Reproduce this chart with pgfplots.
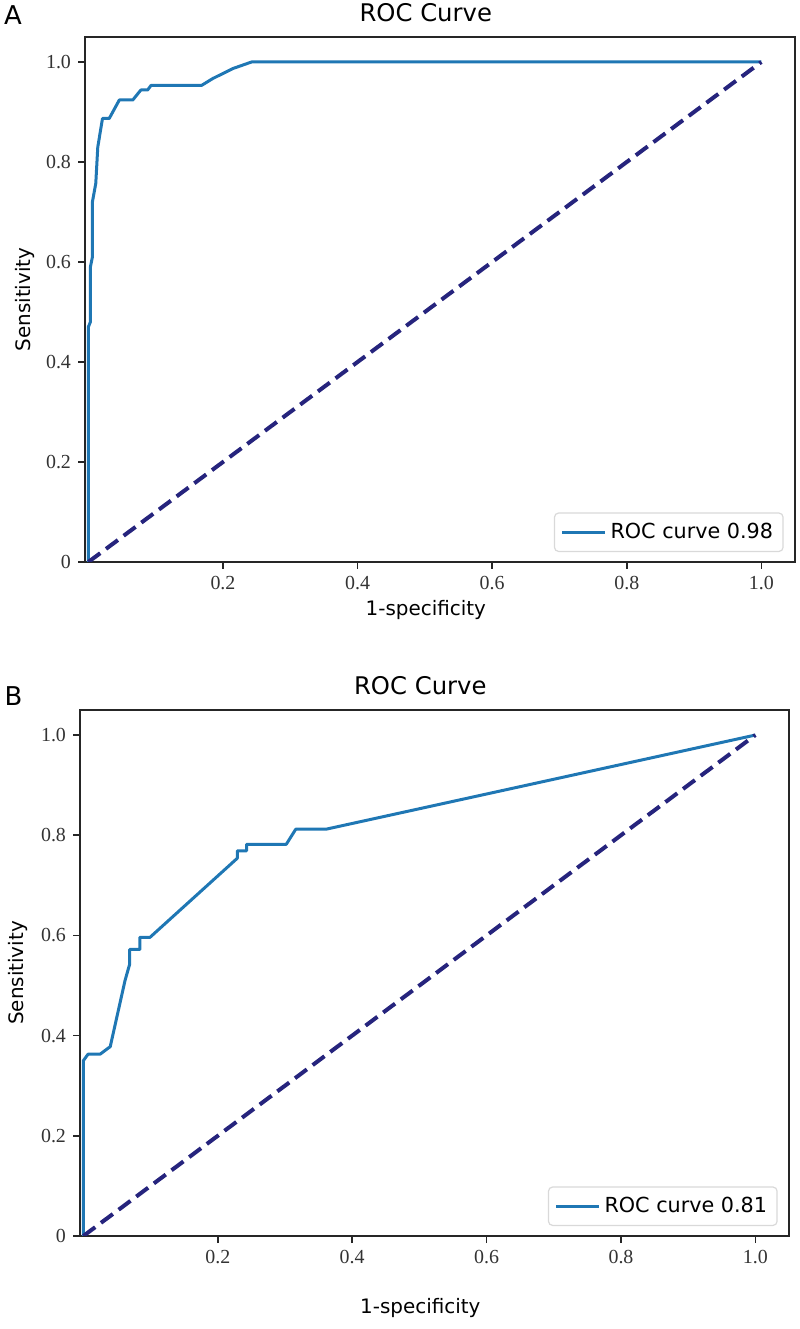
\documentclass[border=0pt]{standalone}
\usepackage{fontspec}
\setmainfont{Liberation Serif}
\newfontfamily\dejavu{DejaVu Sans}
\usepackage{pgfplots}
\pgfplotsset{compat=1.18}
\definecolor{rocblue}{RGB}{31,119,180}
\definecolor{rocnavy}{RGB}{38,36,125}
\pgfplotsset{
  rocaxis/.style={
    scale only axis,
    width=355bp, height=262.5bp,
    xmin=-0.005, xmax=1.05, ymin=0, ymax=1.05,
    axis line style={line width=0.8bp, black!85},
    tick pos=left,
    tick align=outside,
    major tick length=3.5bp,
    tick style={line width=0.8bp, black!85},
    xtick={0.2,0.4,0.6,0.8,1.0},
    xticklabels={0.2,0.4,0.6,0.8,1.0},
    ytick={0,0.2,0.4,0.6,0.8,1.0},
    yticklabels={0,0.2,0.4,0.6,0.8,1.0},
    /pgf/number format/assume math mode=true,
    tick label style={font=\fontsize{10}{12}\selectfont, text=black!80},
    every axis title/.style={font=\dejavu\fontsize{12.2}{14}\selectfont, at={(axis description cs:0.48,1)}, anchor=base, yshift=7.5bp},
    title={ROC Curve},
    ylabel={Sensitivity},
    xlabel={1-specificity},
    legend cell align=left,
    legend style={font=\dejavu\fontsize{10.4}{12}\selectfont, draw=black!15, rounded corners=2bp, line width=0.6bp,
      at={(axis description cs:0.984,0.019)}, anchor=south east, inner xsep=3bp, inner ysep=3bp},
    legend image code/.code={\draw[#1] (0bp,0bp) -- (21.5bp,0bp);},
  }
}
\begin{document}
\begin{tikzpicture}
\useasboundingbox (0,0) rectangle (400bp,664.5bp);
% Panel A
\begin{axis}[rocaxis, at={(42.5bp,383.5bp)}, anchor=south west,
  every axis y label/.style={font=\dejavu\fontsize{10}{12}\selectfont, at={(axis description cs:0,0.5)}, rotate=90, anchor=center, yshift=30bp},
  every axis x label/.style={font=\dejavu\fontsize{10}{12}\selectfont, at={(axis description cs:0.48,0)}, anchor=center, yshift=-24bp},
]
\addplot[rocblue, line width=1.5bp, line join=round] coordinates {
(0,0) (0,0.47) (0.003,0.48) (0.003,0.59) (0.006,0.61) (0.006,0.72)
(0.011,0.757) (0.014,0.83) (0.021,0.887) (0.031,0.887) (0.046,0.924)
(0.066,0.924) (0.078,0.944) (0.088,0.944) (0.093,0.953) (0.168,0.953)
(0.185,0.967) (0.215,0.987) (0.2425,1) (1,1)};
\addlegendentry{ROC curve 0.98}
\addplot[rocnavy, line width=2bp, dash pattern=on 7.4bp off 3.6bp, forget plot] coordinates {(0,0) (1,1)};
\end{axis}
\node[font=\dejavu\fontsize{13}{15}\selectfont, anchor=center] at (6.5bp,656.75bp) {A};
% Panel B
\begin{axis}[rocaxis, at={(40bp,46.5bp)}, anchor=south west, width=354.5bp, height=263bp,
  every axis y label/.style={font=\dejavu\fontsize{10}{12}\selectfont, at={(axis description cs:0,0.5)}, rotate=90, anchor=center, yshift=31bp},
  every axis x label/.style={font=\dejavu\fontsize{10}{12}\selectfont, at={(axis description cs:0.48,0)}, anchor=center, yshift=-36bp},
]
\addplot[rocblue, line width=1.5bp, line join=round] coordinates {
(0,0) (0,0.35) (0.007,0.363) (0.025,0.363) (0.04,0.378) (0.062,0.51)
(0.069,0.543) (0.069,0.572) (0.084,0.572) (0.084,0.596) (0.099,0.596)
(0.229,0.754) (0.229,0.769) (0.243,0.769) (0.243,0.782) (0.302,0.782)
(0.316,0.812) (0.361,0.812) (1,1)};
\addlegendentry{ROC curve 0.81}
\addplot[rocnavy, line width=2bp, dash pattern=on 7.4bp off 3.6bp, forget plot] coordinates {(0,0) (1,1)};
\end{axis}
\node[font=\dejavu\fontsize{13}{15}\selectfont, anchor=center] at (6.75bp,316.25bp) {B};
\end{tikzpicture}
\end{document}
